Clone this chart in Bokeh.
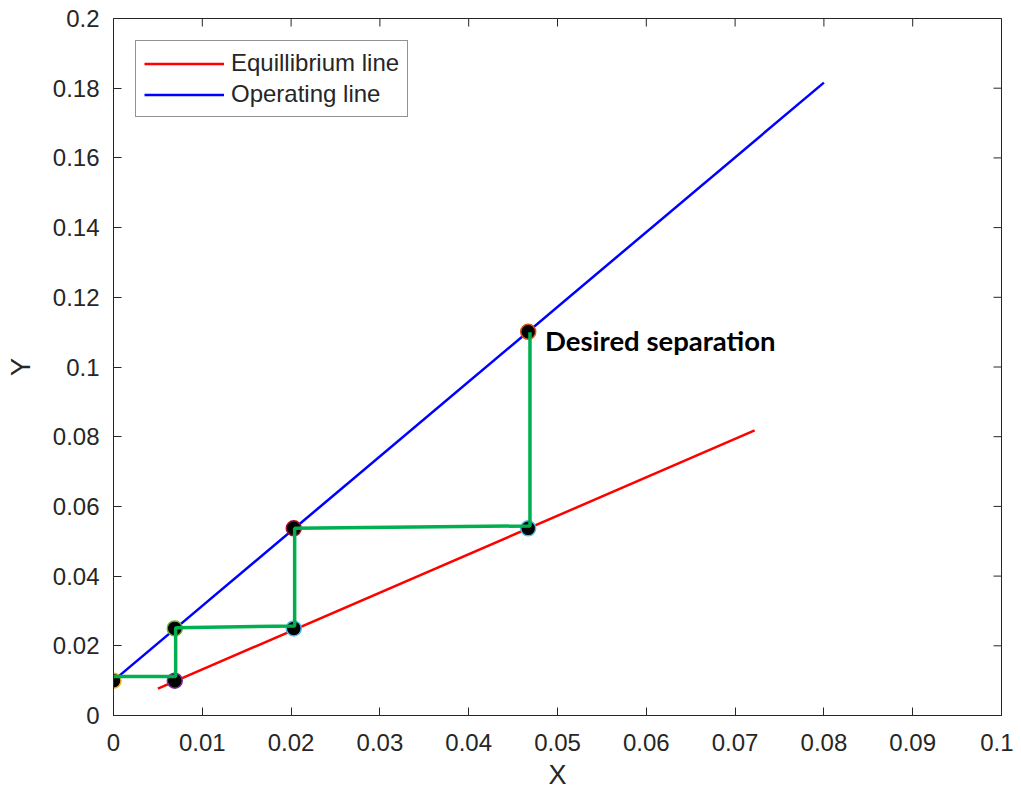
import math
from bokeh.plotting import figure
from bokeh.models import FixedTicker, Range1d, Legend, LegendItem
from bokeh.core.properties import value
from bokeh.embed import file_html
from bokeh.resources import INLINE

# Data
eq_x = [0.005, 0.0722]
eq_y = [0.0077, 0.0818]
op_x = [0.0, 0.080]
op_y = [0.0100, 0.1816]
stair_x = [0.0, 0.0070, 0.0070, 0.0204, 0.0204, 0.0469, 0.0469]
stair_y = [0.0112, 0.0112, 0.0252, 0.0257, 0.0537, 0.0544, 0.1100]
pt_x = [0.0, 0.0069, 0.0069, 0.0203, 0.0203, 0.0467, 0.0467]
pt_y = [0.0100, 0.0100, 0.0250, 0.0250, 0.0537, 0.0537, 0.1101]
pt_edge = ["#EDB120", "#7E2F8E", "#77AC30", "#4DBEEE", "#A2142F", "#4DBEEE", "#D95319"]
x_ticks = [0, 0.01, 0.02, 0.03, 0.04, 0.05, 0.06, 0.07, 0.08, 0.09, 0.1]
x_tick_labels = ["0", "0.01", "0.02", "0.03", "0.04", "0.05", "0.06", "0.07", "0.08", "0.09", "0.1"]
y_ticks = [0, 0.02, 0.04, 0.06, 0.08, 0.1, 0.12, 0.14, 0.16, 0.18, 0.2]
y_tick_labels = ["0", "0.02", "0.04", "0.06", "0.08", "0.1", "0.12", "0.14", "0.16", "0.18", "0.2"]
annot_x = [0.0486]
annot_y = [0.1075]
annot_text = ["Desired separation"]

FONT = "Liberation Sans"
TXT = "#262626"

x_min, x_max = x_ticks[0], x_ticks[-1]
y_min, y_max = y_ticks[0], y_ticks[-1]

p = figure(width=1013, height=792, output_backend="svg", toolbar_location=None,
           x_range=Range1d(x_min, x_max), y_range=Range1d(y_min, y_max),
           min_border_left=113, min_border_right=12, min_border_top=18, min_border_bottom=76)
p.grid.visible = False
p.outline_line_color = TXT
p.outline_line_width = 1
p.background_fill_color = "white"
p.border_fill_color = "white"

def style_axis(ax, ticks, labels, standoff):
    ax.ticker = FixedTicker(ticks=ticks)
    ax.major_label_overrides = {t: l for t, l in zip(ticks, labels)}
    ax.major_tick_in = 8
    ax.major_tick_out = 0
    ax.minor_tick_in = 0
    ax.minor_tick_out = 0
    ax.axis_line_color = TXT
    ax.major_tick_line_color = TXT
    ax.major_label_text_font = FONT
    ax.major_label_text_font_size = "24px"
    ax.major_label_text_color = TXT
    ax.major_label_standoff = standoff
    ax.axis_label_text_font = FONT
    ax.axis_label_text_font_size = "27px"
    ax.axis_label_text_font_style = "normal"
    ax.axis_label_text_color = TXT

style_axis(p.xaxis[0], x_ticks, x_tick_labels, 18)
style_axis(p.yaxis[0], y_ticks, y_tick_labels, 14)
p.xaxis[0].axis_label = "X"
p.yaxis[0].axis_label = "Y"
p.xaxis[0].axis_label_standoff = 6
p.yaxis[0].axis_label_standoff = 14

# inward tick marks on the top and right edges of the box (clipped to frame)
p.scatter(x_ticks, [y_max] * len(x_ticks), marker="dash", size=16, angle=math.pi / 2,
          line_color=TXT, line_width=1)
p.scatter([x_max] * len(y_ticks), y_ticks, marker="dash", size=16,
          line_color=TXT, line_width=1)

r_eq = p.line(eq_x, eq_y, line_color="#FF0000", line_width=2.5)
r_op = p.line(op_x, op_y, line_color="#0000FF", line_width=2.5)
p.scatter(pt_x, pt_y, size=15, fill_color="black", line_color=pt_edge, line_width=1.5)
p.line(stair_x, stair_y, line_color="#00B050", line_width=3.5)

p.text(annot_x, annot_y, text=annot_text, text_font=value("Lato"), text_font_style="bold",
       text_font_size="27.5px", text_color="black", text_baseline="middle", text_align="left")

legend = Legend(items=[LegendItem(label="Equillibrium line", renderers=[r_eq]),
                       LegendItem(label="Operating line", renderers=[r_op])],
                location="top_left", margin=22, padding=8, spacing=3,
                glyph_width=80, glyph_height=27, label_height=27, label_standoff=7,
                label_text_font=FONT, label_text_font_size="24px", label_text_color=TXT,
                border_line_color=TXT, border_line_width=1, background_fill_alpha=1)
p.add_layout(legend)

open("out.html", "w").write(file_html(p, INLINE))
